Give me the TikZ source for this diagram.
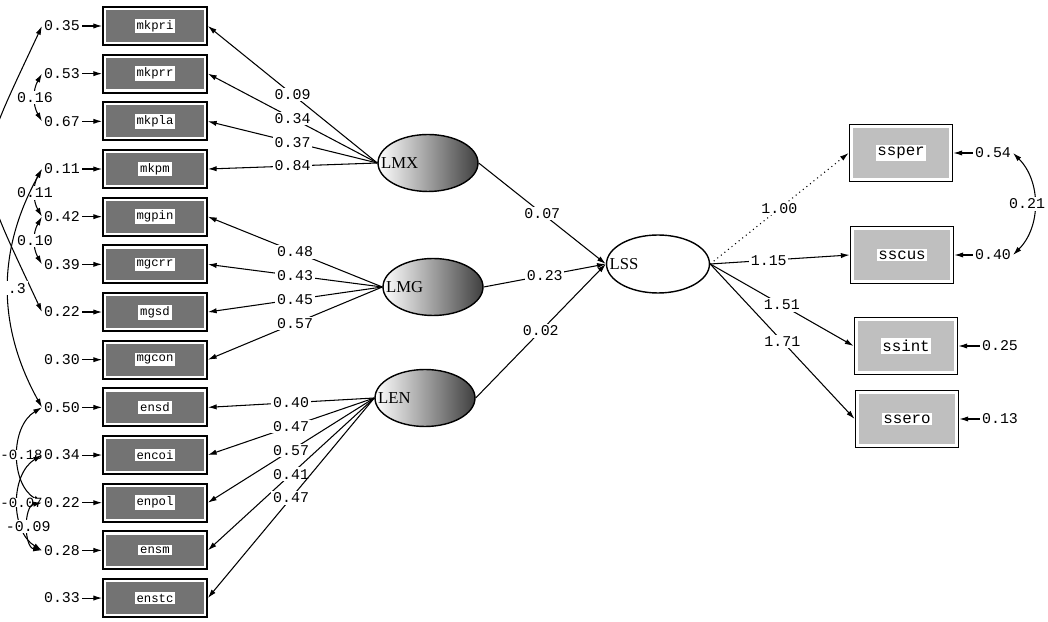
\documentclass[tikz,border=0pt]{standalone}
\usepackage{fontspec}
\setmainfont{Liberation Serif}
\setmonofont{Liberation Mono}
\usetikzlibrary{arrows.meta,shapes.geometric}

\newcommand\boxlbl[1]{{\setlength{\fboxsep}{1pt}\colorbox{white}{#1}}}

\begin{document}
\begin{tikzpicture}[x=0.02cm, y=0.02cm,
    every node/.style={font=\ttfamily\fontsize{8.5}{10}\selectfont},
    obs/.style={rectangle, draw, line width=1pt, fill=white, inner sep=0pt,
      minimum width=2.08cm, minimum height=0.76cm,
      font=\ttfamily\fontsize{7}{8}\selectfont,
      path picture={\fill[black!55]
        ([shift={(1.8pt,1.8pt)}]path picture bounding box.south west) rectangle
        ([shift={(-1.8pt,-1.8pt)}]path picture bounding box.north east);}},
    outc/.style={obs, minimum width=2.06cm, minimum height=1.14cm,
      font=\ttfamily\fontsize{9}{10}\selectfont,
      path picture={\fill[black!25]
        ([shift={(1.8pt,1.8pt)}]path picture bounding box.south west) rectangle
        ([shift={(-1.8pt,-1.8pt)}]path picture bounding box.north east);}},
    lat/.style={ellipse, draw, line width=0.8pt, inner sep=0pt,
      minimum width=2cm, minimum height=1.14cm,
      left color=white, middle color=black!50, right color=black!75},
    latlbl/.style={font=\rmfamily\fontsize{9.5}{11}\selectfont, anchor=west, inner sep=2pt},
    lbl/.style={fill=white, inner sep=1pt},
    load/.style={-{Latex[length=5pt,width=3pt]}, line width=0.6pt},
    cov/.style={{Latex[length=5pt,width=3pt]}-{Latex[length=5pt,width=3pt]}, line width=0.6pt}]
    \useasboundingbox (0,0) rectangle (1048,622);
    \clip (0,0) rectangle (1048,622);

    % Latent variables
    \node [lat, label={[latlbl]west:LMX}] (LMX) at (428,459) {};
    \node [lat, label={[latlbl]west:LMG}] (LMG) at (433,335) {};
    \node [lat, label={[latlbl]west:LEN}] (LEN) at (425,224) {};
    \node [ellipse, draw, line width=0.8pt, fill=white, minimum width=2.06cm, minimum height=1.16cm,
      label={[latlbl]west:LSS}] (LSS) at (658,358) {};

    % Indicators on the left, with their errors
    \foreach \lab/\err [count=\i] in {mkpri/0.35, mkprr/0.53, mkpla/0.67, mkpm/0.11,
        mgpin/0.42, mgcrr/0.39, mgsd/0.22, mgcon/0.30,
        ensd/0.50, encoi/0.34, enpol/0.22, ensm/0.28, enstc/0.33}{
      \node [obs] (b\i) at (155,{596-47.67*(\i-1)}) {\boxlbl{\lab}};
      \node [inner sep=1pt] (e\i) at (62,{596-47.67*(\i-1)}) {\err};
      \draw [load] (e\i) -- (b\i);
    }

    % Indicators on the right
    \node [outc] (r1) at (901,469) {\boxlbl{ssper}};
    \node [outc] (r2) at (902,367) {\boxlbl{sscus}};
    \node [outc] (r3) at (906,276) {\boxlbl{ssint}};
    \node [outc] (r4) at (907,203) {\boxlbl{ssero}};
    \node [inner sep=1pt] (f1) at (993,469) {0.54};
    \node [inner sep=1pt] (f2) at (993,367) {0.40};
    \node [inner sep=1pt] (f3) at (1000,276) {0.25};
    \node [inner sep=1pt] (f4) at (1000,203) {0.13};
    \foreach \i in {1,...,4}
      \draw [load] (f\i) -- (r\i);

    % Loadings
    \foreach \i/\w in {1/0.09, 2/0.34, 3/0.37, 4/0.84}
      \draw [load] (LMX.west) -- node[lbl] {\w} (b\i.east);
    \foreach \i/\w in {5/0.48, 6/0.43, 7/0.45, 8/0.57}
      \draw [load] (LMG.west) -- node[lbl] {\w} (b\i.east);
    \foreach \i/\w in {9/0.40, 10/0.47, 11/0.57, 12/0.41, 13/0.47}
      \draw [load] (LEN.west) -- node[lbl] {\w} (b\i.east);

    % Paths to LSS
    \draw [load] (LMX.east) -- node[lbl] {0.07} (LSS.west);
    \draw [load] (LMG.east) -- node[lbl] {0.23} (LSS.west);
    \draw [load] (LEN.east) -- node[lbl] {0.02} (LSS.west);

    % LSS to its indicators
    \draw [load, dotted] (LSS.east) -- node[lbl] {1.00} (r1.west);
    \draw [load] (LSS.east) -- node[lbl, pos=0.42] {1.15} (r2.west);
    \draw [load] (LSS.east) -- node[lbl] {1.51} (r3.west);
    \draw [load] (LSS.east) -- node[lbl] {1.71} (r4.west);

    % Error covariances
    \draw [cov] (e1.west) to[out=245, in=115, looseness=1.5] (e7.west);
    \draw [cov] (e2.west) to[out=240, in=120] node[lbl] {0.16} (e3.west);
    \draw [cov] (e4.west) to[out=240, in=120] node[lbl] {0.11} (e5.west);
    \draw [cov] (e5.west) to[out=240, in=120] node[lbl] {0.10} (e6.west);
    \draw [cov] (e4.west) to[out=241, in=119] node[lbl, xshift=5pt] {.3} (e9.west);
    \draw [cov] (e9.west) to[out=211, in=149] node[lbl, xshift=2pt, inner sep=0pt, font=\ttfamily\fontsize{8}{9}\selectfont] {-0.18} (e11.west);
    \draw [cov] (e10.west) to[out=211, in=149] node[lbl, xshift=2pt, inner sep=0pt, font=\ttfamily\fontsize{8}{9}\selectfont] {-0.07} (e12.west);
    \draw [cov] (e11.west) to[out=190, in=170] node[lbl] {-0.09} (e12.west);
    \draw [cov] (f1.east) to[out=-45, in=45] node[lbl, xshift=-4pt] {0.21} (f2.east);
\end{tikzpicture}
\end{document}
